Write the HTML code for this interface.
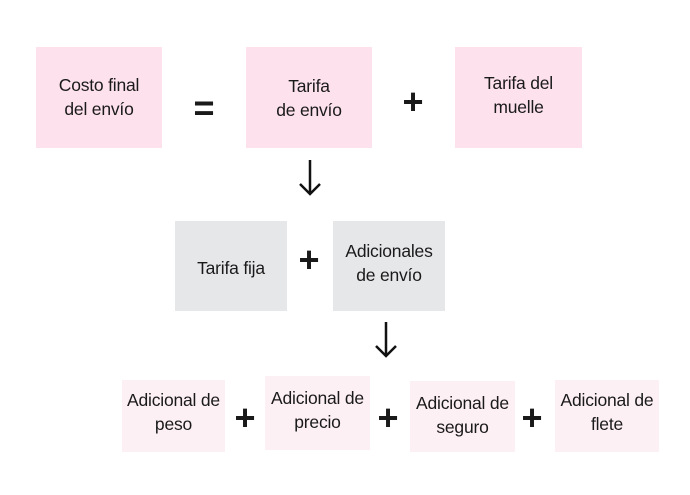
<!DOCTYPE html>
<html><head><meta charset="utf-8"><style>
body{margin:0;width:690px;height:495px;background:#fff;position:relative;overflow:hidden;font-family:"Liberation Sans",sans-serif;color:#1a1a1a}
.b{position:absolute;display:flex;align-items:center;justify-content:center;text-align:center;font-size:17.5px;line-height:24px;letter-spacing:-0.2px}
.p{background:#fde1ec}.g{background:#e6e7e9}.l{background:#fdf0f4}
.o{position:absolute;font-size:36px;font-weight:bold;line-height:36px;transform:translate(-50%,-50%)}
</style></head><body>
<div class="b p" style="left:36px;top:47px;width:126px;height:101px;padding-bottom:2px;box-sizing:border-box">Costo final<br>del envío</div>
<div class="b p" style="left:246px;top:47px;width:126px;height:101px">Tarifa<br>de envío</div>
<div class="b p" style="left:455px;top:47px;width:127px;height:101px;padding-bottom:6px;box-sizing:border-box">Tarifa del<br>muelle</div>
<div class="o" style="left:204px;top:108px">=</div>
<div class="o" style="left:413px;top:102px">+</div>
<svg style="position:absolute;left:295px;top:158px" width="30" height="40"><path d="M15 2V36M5 26L15 36L25 26" stroke="#111" stroke-width="2.5" fill="none"/></svg>
<div class="b g" style="left:175px;top:221px;width:112px;height:90px;padding-top:4px;box-sizing:border-box">Tarifa fija</div>
<div class="b g" style="left:333px;top:221px;width:112px;height:90px;padding-bottom:6px;box-sizing:border-box">Adicionales<br>de envío</div>
<div class="o" style="left:309px;top:260px">+</div>
<svg style="position:absolute;left:371px;top:320px" width="30" height="40"><path d="M15 2V36M5 26L15 36L25 26" stroke="#111" stroke-width="2.5" fill="none"/></svg>
<div class="b l" style="left:122px;top:380px;width:103px;height:72px;padding-bottom:8px;box-sizing:border-box">Adicional de<br>peso</div>
<div class="b l" style="left:265px;top:376px;width:105px;height:74px;padding-bottom:6px;box-sizing:border-box">Adicional de<br>precio</div>
<div class="b l" style="left:410px;top:381px;width:105px;height:71px;padding-bottom:4px;box-sizing:border-box">Adicional de<br>seguro</div>
<div class="b l" style="left:555px;top:380px;width:104px;height:72px;padding-bottom:8px;box-sizing:border-box">Adicional de<br>flete</div>
<div class="o" style="left:245px;top:418px">+</div>
<div class="o" style="left:388px;top:418px">+</div>
<div class="o" style="left:532px;top:418px">+</div>
</body></html>
